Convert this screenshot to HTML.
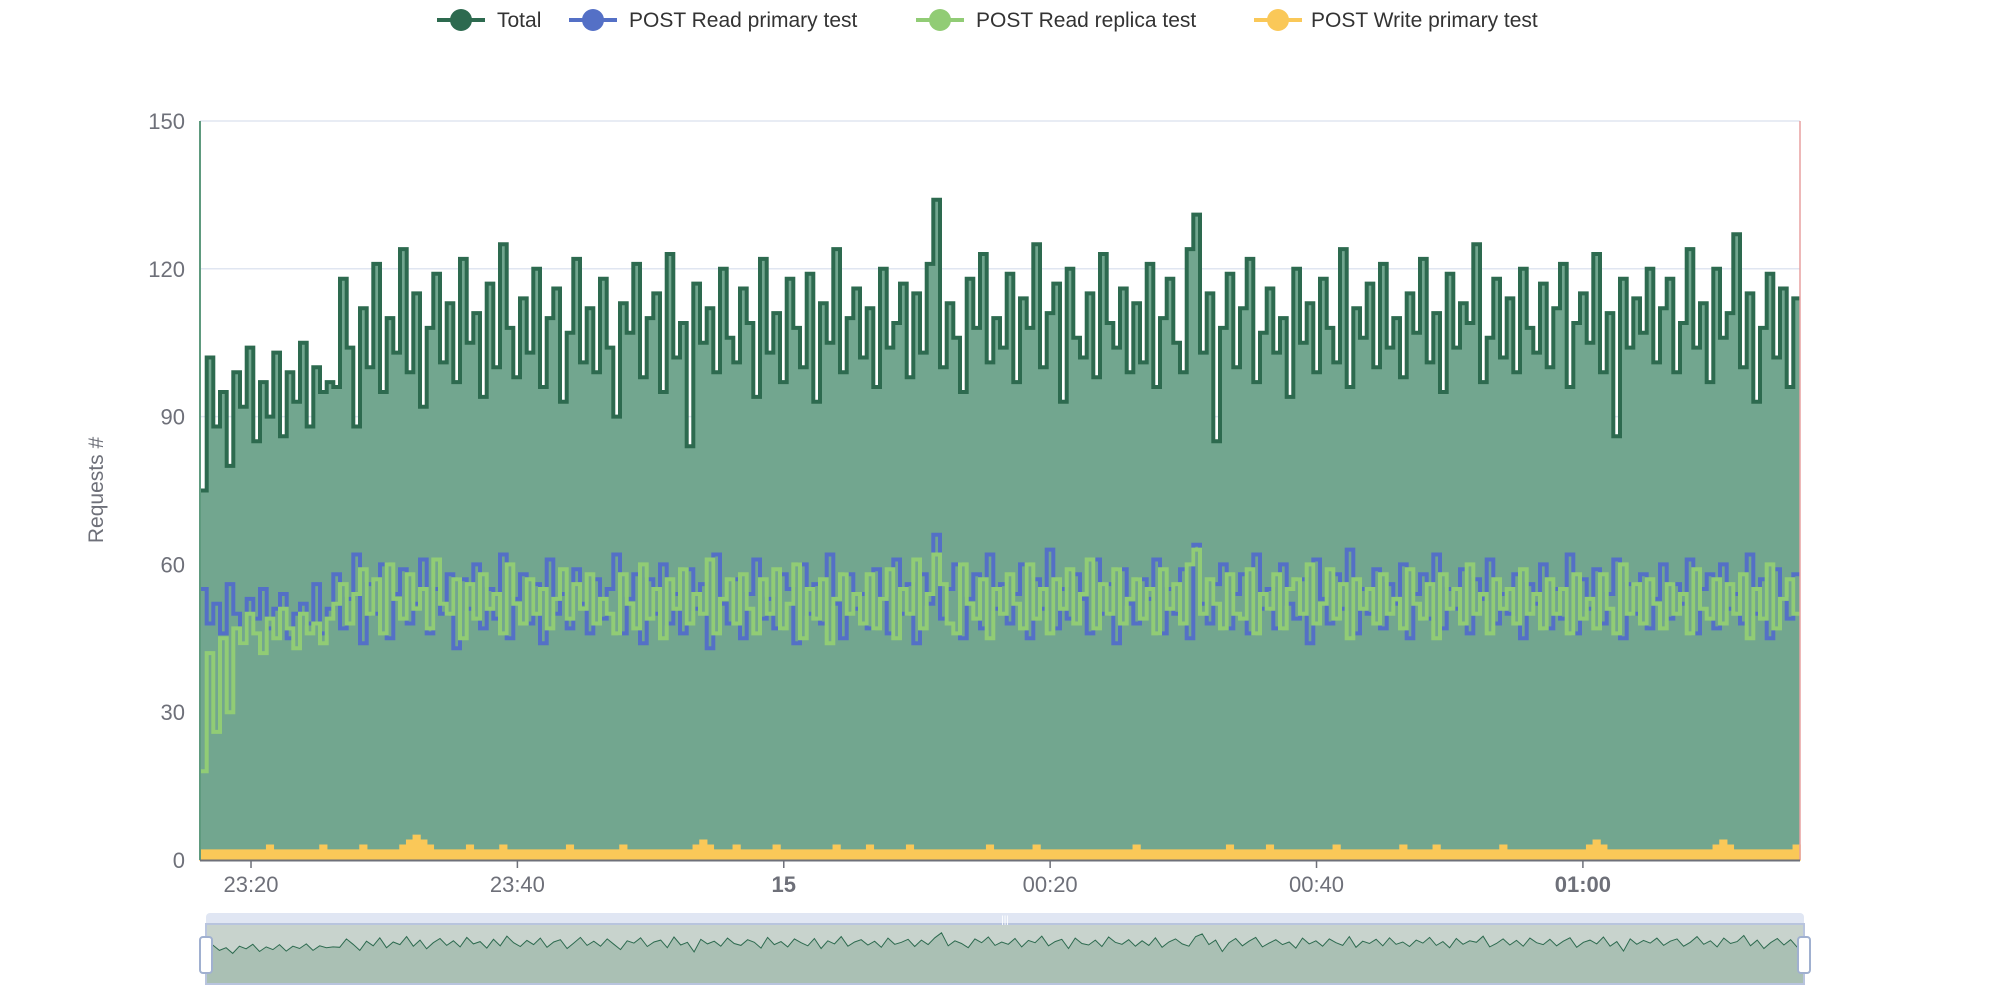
<!DOCTYPE html>
<html><head><meta charset="utf-8"><style>
html,body{margin:0;padding:0;background:#fff;}
svg{display:block;font-family:"Liberation Sans",sans-serif;}
</style></head><body>
<svg id="chart" width="2000" height="1000" viewBox="0 0 2000 1000" xmlns="http://www.w3.org/2000/svg">
<g id="legend">
 <g>
  <line x1="437" y1="20" x2="485" y2="20" stroke="#2d6a4f" stroke-width="4"/><circle cx="461" cy="20" r="11" fill="#2d6a4f"/>
  <text x="497" y="27" font-size="21" fill="#333">Total</text></g>
 <g>
  <line x1="569" y1="20" x2="617" y2="20" stroke="#5470c6" stroke-width="4"/><circle cx="593" cy="20" r="11" fill="#5470c6"/>
  <text x="629" y="27" font-size="21" fill="#333">POST Read primary test</text></g>
 <g>
  <line x1="916" y1="20" x2="964" y2="20" stroke="#91cc75" stroke-width="4"/><circle cx="940" cy="20" r="11" fill="#91cc75"/>
  <text x="976" y="27" font-size="21" fill="#333">POST Read replica test</text></g>
 <g>
  <line x1="1254" y1="20" x2="1302" y2="20" stroke="#fac858" stroke-width="4"/><circle cx="1278" cy="20" r="11" fill="#fac858"/>
  <text x="1311" y="27" font-size="21" fill="#333">POST Write primary test</text></g>
</g>
<g id="grid"></g>
<g id="series"></g>
<g id="axes"></g>
<text transform="translate(103,490) rotate(-90)" text-anchor="middle" font-size="21" fill="#6e7079">Requests #</text>
<g id="zoom"></g>
</svg>
<script>
const total=[75,102,88,95,80,99,92,104,85,97,90,103,86,99,93,105,88,100,95,97,
96,118,104,88,112,100,121,95,110,103,124,99,115,92,108,119,101,113,97,122,
105,111,94,117,100,125,108,98,114,103,120,96,110,116,93,107,122,101,112,99,
118,104,90,113,107,121,98,110,115,95,123,102,109,84,117,105,112,99,120,106,
101,116,109,94,122,103,111,97,118,108,100,119,93,113,105,124,99,110,116,102,
112,96,120,104,109,117,98,115,103,121,134,100,113,106,95,118,108,123,101,110,
104,119,97,114,108,125,100,111,117,93,120,106,102,115,98,123,109,104,116,99,
113,101,121,96,110,118,105,99,124,131,103,115,85,108,119,100,112,122,97,107,
116,103,110,94,120,105,113,99,118,108,101,124,96,112,106,117,100,121,104,110,
98,115,107,122,101,111,95,119,104,113,109,125,97,106,118,102,114,99,120,108,
103,117,100,112,121,96,109,115,105,123,99,111,86,118,104,114,107,120,101,112,
118,99,109,124,104,113,97,120,106,111,127,100,115,93,108,119,102,116,96,114];
const primary=[55,48,52,46,56,50,44,53,49,55,47,51,54,45,50,52,48,56,46,51,
58,47,53,62,44,56,50,60,45,54,59,48,52,61,46,55,50,58,43,57,
51,60,47,55,49,62,45,53,58,48,56,44,61,50,54,47,59,52,46,57,
49,55,62,46,53,58,44,57,50,60,48,54,46,59,51,56,43,62,52,48,
57,45,54,61,49,53,47,58,55,44,60,50,56,48,62,52,45,58,51,54,
47,59,53,46,61,50,56,44,58,52,66,49,55,60,45,53,58,47,62,51,
56,48,54,60,45,57,51,63,47,55,49,58,53,46,61,50,56,44,59,52,
48,57,53,61,46,55,50,59,45,64,52,48,56,60,47,54,58,46,62,51,
55,47,60,52,49,57,44,61,53,48,58,51,63,46,55,50,59,47,56,52,
60,45,54,58,49,62,47,55,51,59,46,57,53,61,48,54,50,58,45,56,
52,60,47,55,49,62,46,57,51,59,48,54,61,45,56,50,58,47,53,60,
49,56,52,61,46,55,58,47,60,51,54,48,62,50,57,45,59,53,49,58];
const replica=[18,42,26,45,30,47,44,50,46,42,49,45,51,47,43,50,46,48,44,49,
52,56,48,54,59,50,57,46,60,53,49,58,51,55,47,61,52,50,57,45,
56,49,58,51,54,46,60,52,48,57,50,55,47,53,59,49,56,51,58,48,
53,50,46,58,52,47,60,49,55,45,57,51,59,48,54,50,61,46,53,57,
48,58,51,46,57,50,59,47,52,60,45,55,49,57,44,53,58,50,54,48,
58,47,53,59,45,55,50,61,47,54,62,56,48,46,60,52,49,57,45,55,
50,58,52,47,60,49,55,46,57,51,59,48,54,61,47,56,50,59,48,53,
57,49,55,46,59,51,56,48,60,63,50,57,52,47,58,50,49,59,46,54,
51,58,47,55,57,50,60,48,52,59,49,56,45,57,51,55,48,58,50,53,
47,59,52,49,56,45,58,51,55,48,60,50,54,46,57,51,55,48,59,50,
54,47,57,50,55,46,58,49,53,47,58,51,46,60,50,56,48,57,52,47,
56,50,54,46,59,51,49,57,48,56,50,58,45,55,49,60,47,53,57,50];
const write=[2,2,2,2,2,2,2,2,2,2,3,2,2,2,2,2,2,2,3,2,
2,2,2,2,3,2,2,2,2,2,3,4,5,4,3,2,2,2,2,2,
3,2,2,2,2,3,2,2,2,2,2,2,2,2,2,3,2,2,2,2,
2,2,2,3,2,2,2,2,2,2,2,2,2,2,3,4,3,2,2,2,
3,2,2,2,2,2,3,2,2,2,2,2,2,2,2,3,2,2,2,2,
3,2,2,2,2,2,3,2,2,2,2,2,2,2,2,2,2,2,3,2,
2,2,2,2,2,3,2,2,2,2,2,2,2,2,2,2,2,2,2,2,
3,2,2,2,2,2,2,2,2,2,2,2,2,2,3,2,2,2,2,2,
3,2,2,2,2,2,2,2,2,2,3,2,2,2,2,2,2,2,2,2,
3,2,2,2,2,3,2,2,2,2,2,2,2,2,2,3,2,2,2,2,
2,2,2,2,2,2,2,2,3,4,3,2,2,2,2,2,2,2,2,2,
2,2,2,2,2,2,2,3,4,3,2,2,2,2,2,2,2,2,2,3];
const yTicks=[0,30,60,90,120,150];
const xTickMinutes=[-40,-20,0,20,40,60];
const xTickLabels=["23:20","23:40","15","00:20","00:40","01:00"];
const xTickBold=[false,false,true,false,false,true];
const startMinute=-43.83, endMinute=76.3;

const NS="http://www.w3.org/2000/svg";
const L=200,R=1800,T=121,B=860,YMAX=150;
const n=total.length;
const xT=m=>L+(m-startMinute)/(endMinute-startMinute)*(R-L);
const xI=i=>L+i*(R-L)/n;
const y=v=>B-v/YMAX*(B-T);
function mk(tag,attrs,parent){const e=document.createElementNS(NS,tag);for(const k in attrs)e.setAttribute(k,attrs[k]);parent.appendChild(e);return e;}
function stepPath(arr,fy){let d="";for(let i=0;i<arr.length;i++){d+=(i?"L":"M")+xI(i).toFixed(1)+","+fy(arr[i]).toFixed(1)+"L"+xI(i+1).toFixed(1)+","+fy(arr[i]).toFixed(1);}return d;}

const grid=document.getElementById('grid');
yTicks.forEach(v=>{
 if(v===0)return;
 const g=mk('line',{x1:L,x2:R,y1:y(v),y2:y(v),stroke:'#e0e6f1','stroke-width':1.5},grid);
 
 
});
const S=document.getElementById('series');
const tp=stepPath(total,y);
const area=mk('path',{d:tp+"L"+R+","+B+"L"+L+","+B+"Z",fill:'#72a68f'},S);


const tl=mk('path',{d:tp,fill:'none',stroke:'#2d6a4f','stroke-width':4,'stroke-linejoin':'miter'},S);


const pl=mk('path',{d:stepPath(primary,y),fill:'none',stroke:'#5470c6','stroke-width':4},S);


const rl=mk('path',{d:stepPath(replica,y),fill:'none',stroke:'#91cc75','stroke-width':4},S);


const wp=stepPath(write,y);
const wa=mk('path',{d:wp+"L"+R+","+B+"L"+L+","+B+"Z",fill:'#fac858',stroke:'#fac858','stroke-width':1.5},S);


const edge=mk('line',{x1:R,x2:R,y1:T,y2:B,stroke:'#e8a0a0','stroke-width':1.5},S);


const le=mk('line',{x1:L,x2:L,y1:T,y2:B,stroke:'#5e9a7e','stroke-width':2},S);



const A=document.getElementById('axes');
const xa=mk('line',{x1:L,x2:R,y1:B+0.5,y2:B+0.5,stroke:'#6e7079','stroke-width':2},A);


yTicks.forEach(v=>{
 const t=mk('text',{x:185,y:y(v)+8,'text-anchor':'end','font-size':22,fill:'#6e7079'},A);
 t.textContent=v;
 
 
});
xTickMinutes.forEach((m,i)=>{
 const x=xT(m);
 const tk=mk('line',{x1:x,x2:x,y1:B,y2:B+8,stroke:'#6e7079','stroke-width':1.5},A);
 
 
 const t=mk('text',{x:x,y:892,'text-anchor':'middle','font-size':22,fill:'#6e7079','font-weight':xTickBold[i]?'bold':'normal'},A);
 t.textContent=xTickLabels[i];
 
 
});

const Z=document.getElementById('zoom');
const ZL=206,ZR=1804,ZT=924,ZB=984;
const zb=mk('rect',{x:ZL,y:913,width:ZR-ZL,height:ZB-913,fill:'#e0e6f3',rx:4},Z);


const zx=i=>ZL+i*(ZR-ZL)/(n-1);
const zy=v=>ZB-v/157*(ZB-ZT);
let zd="";total.forEach((v,i)=>{zd+=(i?"L":"M")+zx(i).toFixed(1)+","+zy(v).toFixed(1);});
const zbg=mk('rect',{x:ZL,y:ZT,width:ZR-ZL,height:ZB-ZT,fill:'#c8d3cd'},Z);


const za=mk('path',{d:zd+"L"+ZR+","+ZB+"L"+ZL+","+ZB+"Z",fill:'#aac0b4'},Z);


const zl=mk('path',{d:zd,fill:'none',stroke:'#2d6a4f','stroke-width':1},Z);


const zf=mk('rect',{x:ZL,y:ZT,width:ZR-ZL,height:ZB-ZT,fill:'none',stroke:'#b8c4de','stroke-width':2},Z);


const zm=mk('text',{x:1005,y:923,'text-anchor':'middle','font-size':10,fill:'#fff'},Z);
zm.textContent='|||';


[ZL,ZR].forEach((x,i)=>{
 const h=mk('rect',{x:x-6,y:937,width:12,height:36,rx:3,fill:'#fff',stroke:'#a0b0d0','stroke-width':2},Z);
 
 
});
</script>
</body></html>
